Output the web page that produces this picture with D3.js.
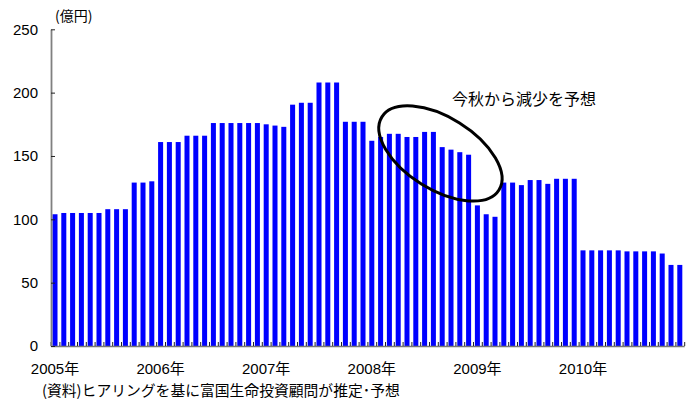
<html>
<script src='https://d3js.org/d3.v7.min.js'></script>
<style>
body {margin: 0; background: #fff;}
text {font-family: "Liberation Sans", Arial, "Noto Sans CJK JP", sans-serif; fill: #000;}
.jp {font-family: "Noto Sans CJK JP", sans-serif;}
</style>
<body onload='init()'>
<svg width=686 height=401></svg>
<script>
// 月次（2005年1月〜2010年12月）
var years = ["2005年","2006年","2007年","2008年","2009年","2010年"]
var values2005 = [104,105,105,105,105,105,108,108,108,129,129,130]
var values2006 = [161,161,161,166,166,166,176,176,176,176,176,176]
var values2007 = [175,174,173,190.5,192,192,208,208,208,177,177,177]
var values2008 = [162,165,167.5,167.5,165,165,169,169,157,155,153,151]
var values2009 = [111,104,102,129,129,127,131,131,128,132,132,132]
var values2010 = [75.5,75.5,75.5,75.5,75.5,74.7,74.7,74.7,74.7,73,64,64]
var yTicks = [0,50,100,150,200,250]
var unitLabel = "(億円)"
var noteText = "(資料)ヒアリングを基に富国生命投資顧問が推定･予想"
var calloutText = "今秋から減少を予想"
// annotation position in data units (month index, value)
var callout = {month: 44.3, value: 152, rx: 69, ry: 36, angle: 32}

function init() {
  var values = [].concat(values2005, values2006, values2007, values2008, values2009, values2010)
  var svg = d3.select("svg")
  var left = 50.6, right = 684.2, top = 29.3, bottom = 346

  var x = d3.scaleBand().domain(d3.range(values.length)).range([left, right])
    .paddingInner(0.43).paddingOuter(0.215)
  var xs = d3.scaleLinear().domain([0, values.length]).range([left, right])
  var y = d3.scaleLinear().domain([0, 250]).range([bottom, top])

  svg.append("g").selectAll("rect")
    .data(values).enter().append("rect")
    .attr("x", function(d,i) { return x(i) })
    .attr("y", function(d) { return y(d) })
    .attr("width", x.bandwidth())
    .attr("height", function(d) { return y(0) - y(d) })
    .attr("fill", "#0000ff")

  // x axis: small ticks at month boundaries
  var xa = svg.append("g").attr("transform", "translate(0," + bottom + ")")
    .call(d3.axisBottom(xs).tickValues(d3.range(values.length + 1))
      .tickSizeInner(-4).tickSizeOuter(0).tickFormat(""))
  xa.select(".domain").attr("stroke", "#777").attr("stroke-width", 1.5)
  xa.selectAll(".tick line").attr("stroke", "#222")

  svg.append("g").selectAll("text")
    .data(years).enter().append("text")
    .attr("x", function(d,i) { return x(i * 12) + x.bandwidth() / 2 })
    .attr("y", 374)
    .attr("text-anchor", "middle")
    .style("font-size", "15px")
    .text(function(d) { return d })

  // y axis
  var ya = svg.append("g").attr("transform", "translate(" + (left + 0.4) + ",0)")
    .call(d3.axisLeft(y).tickValues(yTicks).tickSizeInner(-4).tickSizeOuter(0).tickPadding(13))
  ya.select(".domain").attr("stroke", "#808080").attr("stroke-width", 1.8)
  ya.selectAll(".tick line").attr("stroke", "#222")
  ya.selectAll(".tick text").style("font-size", "15px").attr("font-family", null)

  svg.append("text").attr("class", "jp").attr("x", 55).attr("y", 21)
    .style("font-size", "14px").text(unitLabel)

  // callout
  var cx = xs(callout.month), cy = y(callout.value)
  svg.append("ellipse")
    .attr("cx", 0).attr("cy", 0).attr("rx", callout.rx).attr("ry", callout.ry)
    .attr("transform", "translate(" + cx + "," + cy + ") rotate(" + callout.angle + ")")
    .attr("fill", "none").attr("stroke", "#000").attr("stroke-width", 3)
  svg.append("text").attr("class", "jp").attr("x", 452).attr("y", 105)
    .style("font-size", "16px").text(calloutText)

  svg.append("text").attr("class", "jp").attr("x", 42).attr("y", 396)
    .style("font-size", "14.8px").text(noteText)
}
</script>
</body>
</html>
